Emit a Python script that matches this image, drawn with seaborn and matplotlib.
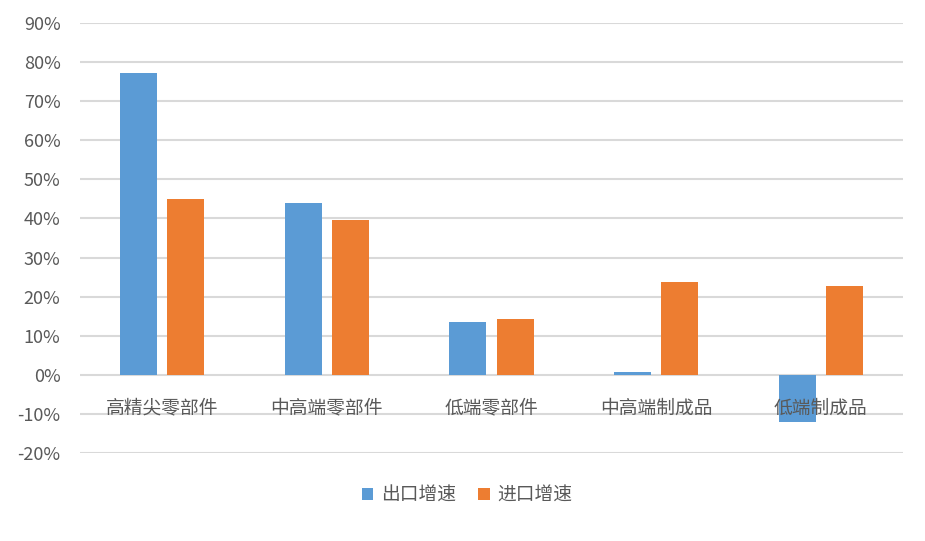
import pandas as pd
import matplotlib
matplotlib.use("Agg")
import matplotlib.pyplot as plt
import seaborn as sns
from matplotlib.ticker import FuncFormatter

# data (percent)
categories = ['高精尖零部件', '中高端零部件', '低端零部件', '中高端制成品', '低端制成品']
export_growth = [77.2, 44.0, 13.4, 0.8, -12.0]
import_growth = [44.9, 39.5, 14.4, 23.8, 22.8]
series_names = ['出口增速', '进口增速']

df = pd.DataFrame({
    'cat': categories * 2,
    'val': export_growth + import_growth,
    'series': [series_names[0]] * len(categories) + [series_names[1]] * len(categories),
})

sns.set_style("white")
plt.rcParams['font.family'] = ['Noto Sans CJK SC', 'DejaVu Sans']
TXT = '#595959'

fig = plt.figure(figsize=(9.25, 5.41), dpi=100)
ax = fig.add_axes([80 / 925, 1 - 453 / 541, 823 / 925, (453 - 23) / 541])

sns.barplot(data=df, x='cat', y='val', hue='series',
            palette=['#5B9BD5', '#ED7D31'], width=0.572, gap=0.213,
            saturation=1, linewidth=0, ax=ax, zorder=3)

ax.set_ylim(-20, 90)
ax.set_xlim(-0.5, len(categories) - 0.5)
ax.set_yticks(range(-20, 91, 10))
ax.yaxis.set_major_formatter(FuncFormatter(lambda v, p: f'{v:.0f}%'))
ax.tick_params(axis='y', length=0, labelsize=13, labelcolor=TXT, pad=14)
ax.grid(axis='y', color='#d9d9d9', linewidth=1.5, zorder=0)
ax.set_axisbelow(True)
for s in ax.spines.values():
    s.set_visible(False)

# category labels sit just under the zero line
ax.set_xticks([])
ax.set_xlabel('')
ax.set_ylabel('')
for i, c in enumerate(categories):
    ax.annotate(c, xy=(i, 0), xytext=(0, -23), textcoords='offset pixels',
                ha='center', va='top', fontsize=13.5, color=TXT, zorder=4)

handles, labels = ax.get_legend_handles_labels()
ax.legend(handles, labels, loc='center', bbox_to_anchor=(0.505, 0.085),
          bbox_transform=fig.transFigure, ncol=2, frameon=False,
          fontsize=13.5, handlelength=0.6, handleheight=0.6, handletextpad=0.4,
          columnspacing=1.2, labelcolor=TXT)

fig.savefig('out.png', dpi=100)
